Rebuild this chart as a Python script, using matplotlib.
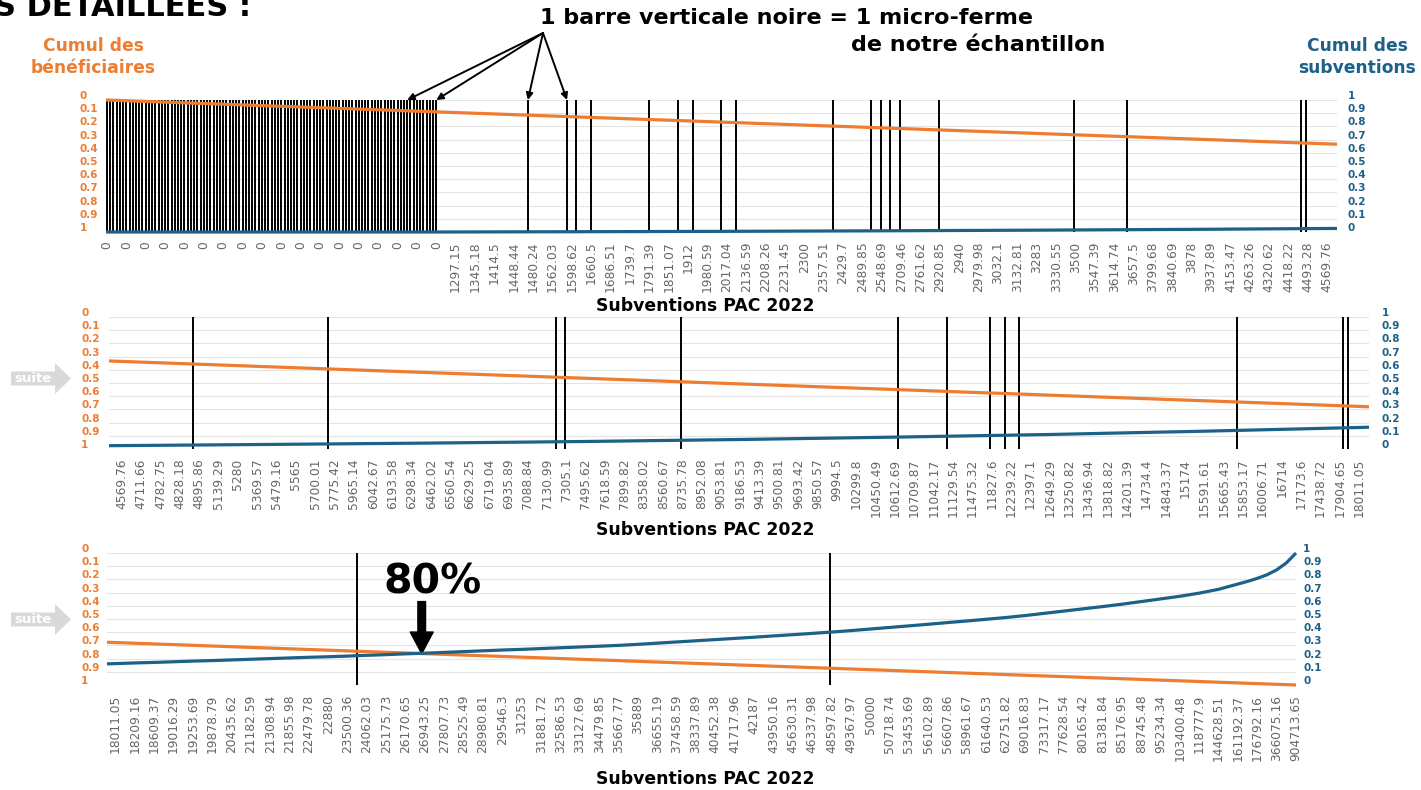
import numpy as np
import matplotlib
matplotlib.use('Agg')
from matplotlib import pyplot as plt
from matplotlib.patches import Polygon
from matplotlib.transforms import ScaledTranslation

W, H = 1421, 790
ORANGE = '#ED7D31'
BLUE = '#1C6187'
GREY = '#666666'

plt.rcParams['font.family'] = ['DejaVu Sans']

# ---- panel 1 ----
p1_labels = ['0'] * 18 + [
    '1297.15', '1345.18', '1414.5', '1448.44', '1480.24', '1562.03', '1598.62', '1660.5',
    '1686.51', '1739.7', '1791.39', '1851.07', '1912', '1980.59', '2017.04', '2136.59',
    '2208.26', '2231.45', '2300', '2357.51', '2429.7', '2489.85', '2548.69', '2709.46',
    '2761.62', '2920.85', '2940', '2979.98', '3032.1', '3132.81', '3283', '3330.55',
    '3500', '3547.39', '3614.74', '3657.5', '3799.68', '3840.69', '3878', '3937.89',
    '4153.47', '4263.26', '4320.62', '4418.22', '4493.28', '4569.76']
p1_zero_farms = 103   # micro-fermes a 0 EUR, une par categorie (6 par etiquette)
p1_farms = [21.73, 23.75, 24.23, 24.99, 27.96, 29.46, 30.23, 31.71, 32.47, 37.46,
            39.46, 39.96, 40.44, 40.96, 42.93, 49.94, 52.67, 61.66, 61.90]
p1_orange_pos = [-0.05, 63.5]
p1_orange = [0.0, 0.335]
p1_blue_pos = [-0.05, 17, 24, 32, 40, 48, 56, 63.5]
p1_blue = [0.0, 0.0, 0.002, 0.005, 0.009, 0.014, 0.020, 0.027]

# ---- panel 2 ----
p2_labels = [
    '4569.76', '4711.66', '4782.75', '4828.18', '4895.86', '5139.29', '5280', '5369.57',
    '5479.16', '5565', '5700.01', '5775.42', '5965.14', '6042.67', '6193.58', '6298.34',
    '6462.02', '6560.54', '6629.25', '6719.04', '6935.89', '7088.84', '7130.99', '7305.1',
    '7495.62', '7618.59', '7899.82', '8358.02', '8560.67', '8735.78', '8952.08', '9053.81',
    '9186.53', '9413.39', '9500.81', '9693.42', '9850.57', '9994.5', '10299.8', '10450.49',
    '10612.69', '10709.87', '11042.17', '11129.54', '11475.32', '11827.6', '12239.22',
    '12397.1', '12649.29', '13250.82', '13436.94', '13818.82', '14201.39', '14734.4',
    '14843.37', '15174', '15591.61', '15665.43', '15853.17', '16006.71', '16714',
    '17173.6', '17438.72', '17904.65', '18011.05']
p2_farms = [3.67, 10.68, 22.44, 22.94, 28.90, 40.16, 42.67, 44.90, 45.66, 46.41,
            57.65, 63.13, 63.39]
p2_orange_pos = [-0.66, 64.5]
p2_orange = [0.333, 0.68]
p2_blue_pos = [-0.66, 8, 16, 24, 32, 40, 48, 56, 64, 64.5]
p2_blue = [0.025, 0.035, 0.045, 0.057, 0.072, 0.090, 0.110, 0.135, 0.163, 0.165]

# ---- panel 3 ----
p3_labels = [
    '18011.05', '18209.16', '18609.37', '19016.29', '19253.69', '19878.79', '20435.62',
    '21182.59', '21308.94', '21855.98', '22479.78', '22880', '23500.36', '24062.03',
    '25175.73', '26170.65', '26943.25', '27807.73', '28525.49', '28980.81', '29546.3',
    '31253', '31881.72', '32586.53', '33127.69', '34479.85', '35667.77', '35889',
    '36655.19', '37458.59', '38337.89', '40452.38', '41717.96', '42187', '43950.16',
    '45630.31', '46337.98', '48597.82', '49367.97', '50000', '50718.74', '53453.69',
    '56102.89', '56607.86', '58961.67', '61640.53', '62751.82', '69016.83', '73317.17',
    '77628.54', '80165.42', '81381.84', '85176.95', '88745.48', '95234.34', '103400.48',
    '118777.9', '144628.51', '161192.37', '176792.16', '366075.16', '904713.65']
p3_farms = [12.47, 36.92]
p3_orange_pos = [-0.43, 61]
p3_orange = [0.676, 1.0]
p3_blue_pos = [-0.43] + list(range(59)) + [58.5, 59, 59.5, 60, 60.5, 61]
p3_blue = [0.160,
           0.162, 0.167, 0.171, 0.176, 0.181, 0.185, 0.190, 0.195, 0.200, 0.205,
           0.210, 0.214, 0.219, 0.225, 0.230, 0.236, 0.241, 0.247, 0.253, 0.259,
           0.265, 0.270, 0.276, 0.282, 0.288, 0.294, 0.300, 0.308, 0.317, 0.326,
           0.335, 0.344, 0.353, 0.362, 0.372, 0.381, 0.391, 0.401, 0.412, 0.424,
           0.436, 0.448, 0.460, 0.473, 0.485, 0.498, 0.511, 0.526, 0.543, 0.560,
           0.577, 0.594, 0.612, 0.632, 0.652, 0.672, 0.696, 0.725, 0.765,
           0.785, 0.808, 0.835, 0.872, 0.925, 1.0]
cross_pos, cross_val = 15.83, 0.762   # croisement des deux courbes (80%)

yticks = [round(0.1 * k, 1) for k in range(11)]


def fig_xy(x, y):
    return x / W, 1 - y / H


def draw_panel(fig, box, xlim, labels, farms, o_pos, o_val, b_pos, b_val, lpad, rpad):
    l, t, r, b = box
    ax = fig.add_axes([l / W, 1 - b / H, (r - l) / W, (b - t) / H])
    ax.set_xlim(*xlim)
    ax.set_ylim(1, 0)
    ax.set_yticks(yticks)
    ax.set_yticklabels([f'{v:g}' for v in yticks])
    ax.set_xticks(range(len(labels)))
    ax.set_xticklabels(labels, rotation=90)
    ax.grid(axis='y', color='#e4e4e4', lw=0.8)
    ax.set_axisbelow(True)
    for s in ax.spines.values():
        s.set_visible(False)
    ax.tick_params(axis='x', length=0, labelsize=8.8, labelcolor=GREY, pad=7)
    ax.tick_params(axis='y', length=0, labelsize=7.5, labelcolor=ORANGE, pad=lpad * 0.72)
    ax.vlines(farms, 0, 1, color='black', lw=1.4, zorder=2)
    ax.plot(o_pos, o_val, color=ORANGE, lw=2.3, zorder=3, clip_on=False,
            solid_capstyle='butt')

    ax2 = ax.twinx()
    ax2.set_ylim(0, 1)
    ax2.set_yticks(yticks)
    ax2.set_yticklabels([f'{v:g}' for v in yticks])
    for s in ax2.spines.values():
        s.set_visible(False)
    ax2.tick_params(axis='y', length=0, labelsize=7.5, labelcolor=BLUE, pad=rpad * 0.72)
    ax2.plot(b_pos, b_val, color=BLUE, lw=2.3, zorder=3, clip_on=False,
             solid_capstyle='butt', solid_joinstyle='round')

    off = ScaledTranslation(0, 0.05, fig.dpi_scale_trans)
    for lbl in ax.get_yticklabels():
        lbl.set_fontweight('bold')
        lbl.set_ha('left')
        lbl.set_transform(lbl.get_transform() + off)
    for lbl in ax2.get_yticklabels():
        lbl.set_fontweight('bold')
        lbl.set_transform(lbl.get_transform() + off)
    return ax, ax2


fig = plt.figure(figsize=(W / 100, H / 100), dpi=100)

p1_bars = list(np.arange(p1_zero_farms) / 6) + p1_farms
ax1, _ = draw_panel(fig, (106, 100, 1337, 232), (-0.05, 63.5), p1_labels, p1_bars,
                    p1_orange_pos, p1_orange, p1_blue_pos, p1_blue, 26, 11)
ax2, _ = draw_panel(fig, (109, 317, 1369, 449), (-0.66, 64.5), p2_labels, p2_farms,
                    p2_orange_pos, p2_orange, p2_blue_pos, p2_blue, 28, 13)
ax3, _ = draw_panel(fig, (107, 553, 1296, 685), (-0.43, 61.0), p3_labels, p3_farms,
                    p3_orange_pos, p3_orange, p3_blue_pos, p3_blue, 26, 7)

# axis titles
for y in (306, 530, 779):
    fig.text(*fig_xy(705, y), 'Subventions PAC 2022', ha='center', va='center',
             fontsize=12.4, fontweight='bold')
fig.text(*fig_xy(93, 57), 'Cumul des\nbénéficiaires', ha='center', va='center',
         fontsize=12.3, fontweight='bold', color=ORANGE, linespacing=1.25)
fig.text(*fig_xy(1357, 57), 'Cumul des\nsubventions', ha='center', va='center',
         fontsize=12.3, fontweight='bold', color=BLUE, linespacing=1.25)

# header
fig.text(*fig_xy(-6, 16.5), 'S DÉTAILLÉES :', ha='left', va='baseline',
         fontsize=22, fontweight='bold')
fig.text(*fig_xy(786, 18), '1 barre verticale noire = 1 micro-ferme', ha='center',
         va='center', fontsize=16, fontweight='bold')
fig.text(*fig_xy(978, 45), 'de notre échantillon', ha='center', va='center',
         fontsize=16, fontweight='bold')

# arrows towards the micro-farms
for xb in (p1_bars[93], p1_bars[102], p1_farms[0], p1_farms[1]):
    ax1.annotate('', xy=(xb, 0), xycoords='data',
                 xytext=(543, H - 33), textcoords='figure pixels',
                 arrowprops=dict(arrowstyle='-|>', color='black', lw=1.4,
                                 mutation_scale=10, shrinkA=0, shrinkB=0),
                 annotation_clip=False)

# 80% marker
ax3.annotate('', xy=(cross_pos, cross_val), xycoords='data',
             xytext=(0, 52), textcoords='offset pixels',
             arrowprops=dict(width=5.5, headwidth=16.5, headlength=15.5,
                             facecolor='black', edgecolor='black', shrink=0))
ax3.annotate('80%', xy=(cross_pos, cross_val), xycoords='data',
             xytext=(11, 71), textcoords='offset pixels', ha='center', va='center',
             fontsize=29.5, fontweight='bold')

# "suite" arrows
for yc in (378.5, 619.5):
    pts = [(11, yc - 7), (55, yc - 7), (55, yc - 15.5), (71, yc), (55, yc + 15.5),
           (55, yc + 7), (11, yc + 7)]
    fig.add_artist(Polygon([fig_xy(x, y) for x, y in pts], closed=True,
                           transform=fig.transFigure, facecolor='#d9d9d9',
                           edgecolor='none'))
    fig.text(*fig_xy(33, yc), 'suite', ha='center', va='center', fontsize=9.5,
             fontweight='bold', color='white')

fig.savefig('out.png', dpi=100)
